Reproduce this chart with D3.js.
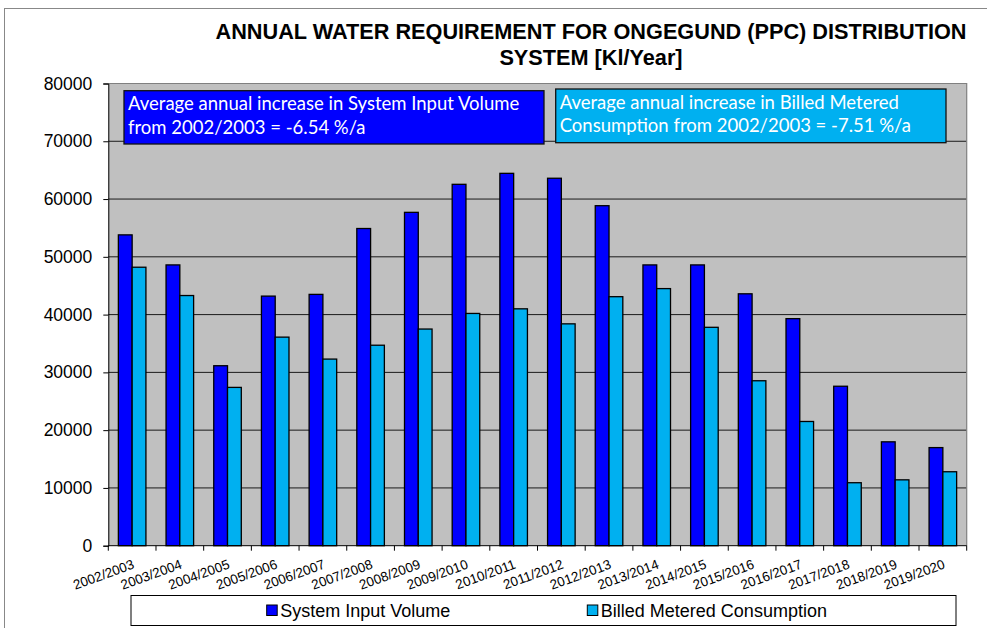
<!DOCTYPE html>
<html><head><meta charset="utf-8">
<script src="https://cdn.jsdelivr.net/npm/d3@7"></script>
<style>body{margin:0;background:#fff}svg{display:block}</style>
</head><body>
<script>
const categories = ["2002/2003","2003/2004","2004/2005","2005/2006","2006/2007","2007/2008","2008/2009","2009/2010","2010/2011","2011/2012","2012/2013","2013/2014","2014/2015","2015/2016","2016/2017","2017/2018","2018/2019","2019/2020"];
const systemInputVolume = [53800,48600,31150,43200,43500,54900,57700,62550,64450,63600,58850,48600,48600,43600,39300,27600,17980,16980];
const billedMeteredConsumption = [48200,43300,27400,36100,32300,34700,37500,40200,41000,38400,43100,44500,37800,28550,21500,10900,11400,12800];
const seriesNames = ["System Input Volume","Billed Metered Consumption"];
const seriesColors = ["#0000FF","#00B0F0"];
const yTicks = [0,10000,20000,30000,40000,50000,60000,70000,80000];
const titleLines = ["ANNUAL WATER REQUIREMENT FOR ONGEGUND (PPC) DISTRIBUTION","SYSTEM [Kl/Year]"];
const notes = [
  {lines:["Average annual increase in System Input Volume","from 2002/2003 = -6.54 %/a"], color:"#0000FF"},
  {lines:["Average annual increase in Billed Metered","Consumption from 2002/2003 = -7.51 %/a"], color:"#00B0F0"}
];

const W=987,H=628;
const L=108.3,R=966.7,T=83.5,B=545.7;
const svg=d3.select("body").append("svg").attr("width",W).attr("height",H);
const font="'Liberation Sans', Arial, sans-serif";

// outer chart border
svg.append("rect").attr("x",4.5).attr("y",8.5).attr("width",1100).attr("height",800)
  .attr("fill","#fff").attr("stroke","#888").attr("stroke-width",1);

// title
svg.append("g").selectAll("text").data(titleLines).join("text")
  .attr("x",591).attr("y",(d,i)=>38.5+i*26.5).attr("text-anchor","middle")
  .attr("font-family",font).attr("font-weight","bold").attr("font-size","21.7px").attr("fill","#000")
  .text(d=>d);

const x0=d3.scaleBand().domain(categories).range([L,R]).padding(0);
const x1=d3.scaleBand().domain(seriesNames).range([0,x0.bandwidth()]).paddingInner(0).paddingOuter(0.73);
const y=d3.scaleLinear().domain([0,80000]).range([B,T]);

// plot background
svg.append("rect").attr("x",L).attr("y",T).attr("width",R-L).attr("height",B-T).attr("fill","#C0C0C0");
// gridlines
svg.append("g").selectAll("line").data(yTicks.filter(v=>v>0&&v<80000)).join("line")
  .attr("x1",L).attr("x2",R).attr("y1",d=>y(d)).attr("y2",d=>y(d)).attr("stroke","#1a1a1a").attr("stroke-width",1);
// plot border top/right
svg.append("path").attr("d",`M${L},${T}H${R}V${B}`).attr("fill","none").attr("stroke","#808080").attr("stroke-width",1.2);

// bars
const series=[systemInputVolume,billedMeteredConsumption];
series.forEach((vals,si)=>{
  svg.append("g").selectAll("rect").data(categories).join("rect")
    .attr("x",c=>x0(c)+x1(seriesNames[si]))
    .attr("y",(c,i)=>y(vals[i]))
    .attr("width",x1.bandwidth())
    .attr("height",(c,i)=>B-y(vals[i]))
    .attr("fill",seriesColors[si]).attr("stroke","#000").attr("stroke-width",1.3);
});

// y axis
const yAxis=d3.axisLeft(y).tickValues(yTicks).tickSize(5).tickPadding(11).tickFormat(d3.format("d"));
const gy=svg.append("g").attr("transform",`translate(${L},0)`).call(yAxis);
gy.select(".domain").attr("stroke","#000");
gy.selectAll(".tick line").attr("stroke","#000");
gy.selectAll("text").attr("font-family",font).attr("font-size","17.5px").attr("fill","#000");

// x axis
const xTickPos=categories.map(c=>x0(c)).concat([R]);
svg.append("line").attr("x1",L).attr("x2",R).attr("y1",B).attr("y2",B).attr("stroke","#000");
svg.append("g").selectAll("line").data(xTickPos).join("line")
  .attr("x1",d=>d).attr("x2",d=>d).attr("y1",B).attr("y2",B+5).attr("stroke","#000");
svg.append("g").selectAll("text").data(categories).join("text")
  .attr("transform",c=>`translate(${x0(c)+x0.bandwidth()/2+3},${568}) rotate(-20)`)
  .attr("text-anchor","end").attr("font-family",font).attr("font-size","13.5px").attr("fill","#000")
  .text(c=>c);

// annotation boxes
const boxes=[{x:124,y:90.7,w:420,h:53.3},{x:555.7,y:89,w:390.3,h:53.7}];
notes.forEach((n,i)=>{
  const b=boxes[i];
  const g=svg.append("g");
  g.append("rect").attr("x",b.x).attr("y",b.y).attr("width",b.w).attr("height",b.h)
    .attr("fill",n.color).attr("stroke","#111").attr("stroke-width",1.3);
  g.selectAll("text").data(n.lines).join("text")
    .attr("x",b.x+4).attr("y",(d,j)=>b.y+19.5+j*23.5)
    .attr("font-family","Lato, 'Open Sans', sans-serif").attr("font-size","18.5px").attr("fill","#fff")
    .text(d=>d);
});

// legend
svg.append("rect").attr("x",131).attr("y",595.5).attr("width",825).attr("height",30)
  .attr("fill","#fff").attr("stroke","#000").attr("stroke-width",1);
const legX=[266.7,587.3];
seriesNames.forEach((s,i)=>{
  svg.append("rect").attr("x",legX[i]).attr("y",605).attr("width",10.5).attr("height",10.5)
    .attr("fill",seriesColors[i]).attr("stroke","#000").attr("stroke-width",1);
  svg.append("text").attr("x",legX[i]+13.5).attr("y",616.5)
    .attr("font-family",font).attr("font-size","18px").attr("fill","#000").text(s);
});
</script>
</body></html>
